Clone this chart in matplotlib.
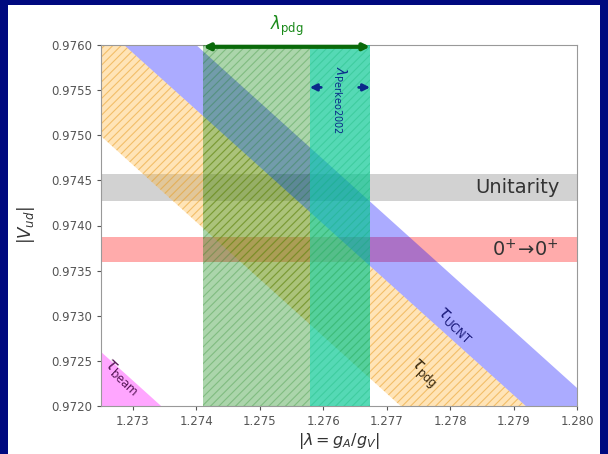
import numpy as np
import matplotlib
matplotlib.use('Agg')
import matplotlib.pyplot as plt
from matplotlib.patches import Rectangle

# Limites des axes
lam_lim = [1.2725, 1.2800]
vud_lim = [0.9720, 0.9760]

# Bandes diagonales : valeur de |Vud| aux deux bords (lam_lim)
ucnt_upper = [0.97695, 0.97220]
ucnt_lower = [0.97623, 0.97149]
pdg_upper = [0.97623, 0.97149]
pdg_lower = [0.97499, 0.97024]
beam_upper = [0.97260, 0.96785]
beam_lower = [0.97150, 0.96680]

# Bandes horizontales
unitarity_band = [0.97427, 0.97457]
superallowed_band = [0.97360, 0.97387]

# Bandes verticales en lambda
lam_pdg = [1.27411, 1.27674]
lam_perkeo = [1.27579, 1.27674]

xticks = [1.273, 1.274, 1.275, 1.276, 1.277, 1.278, 1.279, 1.280]
yticks = [0.9720, 0.9725, 0.9730, 0.9735, 0.9740, 0.9745, 0.9750, 0.9755, 0.9760]

fig = plt.figure(figsize=(6.08, 4.54), dpi=100)
fig.patch.set_facecolor('#00097f')
fig.patches.append(Rectangle((8 / 608, 0), 592 / 608, 1 - 5 / 454,
                             transform=fig.transFigure, facecolor='white',
                             edgecolor='none', zorder=-10))
ax = fig.add_axes([101 / 608, 1 - 406 / 454, 476 / 608, 361 / 454])

lam = np.array(lam_lim)
plt.rcParams['hatch.linewidth'] = 0.8

# Bandes horizontales
ax.axhspan(*unitarity_band, color=(0.5, 0.5, 0.5, 0.35), lw=0, zorder=1)
ax.axhspan(*superallowed_band, color=(1, 0, 0, 0.33), lw=0, zorder=1)

# Bandes diagonales (durees de vie)
ax.fill_between(lam, pdg_lower, pdg_upper, facecolor=(1, 0.7, 0.2, 0.35),
                edgecolor=(0.9, 0.6, 0.1, 0.5), hatch='////', lw=0, zorder=2)
ax.fill_between(lam, ucnt_lower, ucnt_upper, color=(0, 0, 1, 0.33), lw=0, zorder=2)
ax.fill_between(lam, beam_lower, beam_upper, color=(1, 0, 1, 0.35), lw=0, zorder=2)

# Bandes verticales lambda
ax.axvspan(*lam_pdg, facecolor=(0, 0.5, 0, 0.33), edgecolor=(0, 0.45, 0, 0.25),
           hatch='////', lw=0, zorder=3)
ax.axvspan(*lam_perkeo, color=(0, 0.87, 0.75, 0.5), lw=0, zorder=3)

# Fleches
ax.annotate('', xy=(lam_pdg[0], 0.97598), xytext=(lam_pdg[1], 0.97598),
            arrowprops=dict(arrowstyle='<|-|>', color='#0a6a0a', lw=3,
                            mutation_scale=9, shrinkA=0, shrinkB=0), zorder=5)
ax.text(np.mean(lam_pdg), 0.97608, r'$\lambda_{\rm pdg}$', color='#1a8a1a',
        fontsize=12, ha='center', va='bottom', clip_on=False)
ax.annotate('', xy=(lam_perkeo[0], 0.97553), xytext=(lam_perkeo[0] + 0.00018, 0.97553),
            arrowprops=dict(arrowstyle='-|>', color='#0a2a8a', lw=2,
                            mutation_scale=10, shrinkA=0, shrinkB=0), zorder=5)
ax.annotate('', xy=(lam_perkeo[1], 0.97553), xytext=(lam_perkeo[1] - 0.00018, 0.97553),
            arrowprops=dict(arrowstyle='-|>', color='#0a2a8a', lw=2,
                            mutation_scale=10, shrinkA=0, shrinkB=0), zorder=5)
ax.text(1.27626, 0.97539, r'$\lambda_{\rm Perkeo2002}$', color='#0a2a8a',
        fontsize=10, rotation=-90, ha='center', va='center', zorder=6)

# Etiquettes des bandes
ax.text(1.27972, np.mean(unitarity_band), 'Unitarity', fontsize=14,
        color='#333333', ha='right', va='center', zorder=6)
ax.text(1.27972, np.mean(superallowed_band), r'$0^{+}\!\rightarrow\!0^{+}$',
        fontsize=14, color='#333333', ha='right', va='center', zorder=6)
ax.text(1.27808, 0.97290, r'$\tau_{\rm UCNT}$', fontsize=12, color='#1a1a7a',
        rotation=-43, ha='center', va='center', zorder=6)
ax.text(1.27757, 0.97236, r'$\tau_{\rm pdg}$', fontsize=12, color='#3a2a10',
        rotation=-43, ha='center', va='center', zorder=6)
ax.text(1.27284, 0.97233, r'$\tau_{\rm beam}$', fontsize=12, color='#5a1a5a',
        rotation=-43, ha='center', va='center', zorder=6)

ax.set_xlim(lam_lim)
ax.set_ylim(vud_lim)
ax.set_xticks(xticks)
ax.set_xticklabels([f'{t:.3f}' for t in xticks])
ax.set_yticks(yticks)
ax.set_yticklabels([f'{t:.4f}' for t in yticks])
ax.tick_params(labelsize=8.5, colors='#555555', length=3)
for s in ax.spines.values():
    s.set_color('#999999')
ax.set_xlabel(r'$|\lambda = g_A/g_V|$', fontsize=11.5, color='#333333', labelpad=2)
ax.set_ylabel(r'$|V_{ud}|$', fontsize=12, color='#333333', labelpad=10)

fig.savefig('out.png', dpi=100, facecolor=fig.get_facecolor())
